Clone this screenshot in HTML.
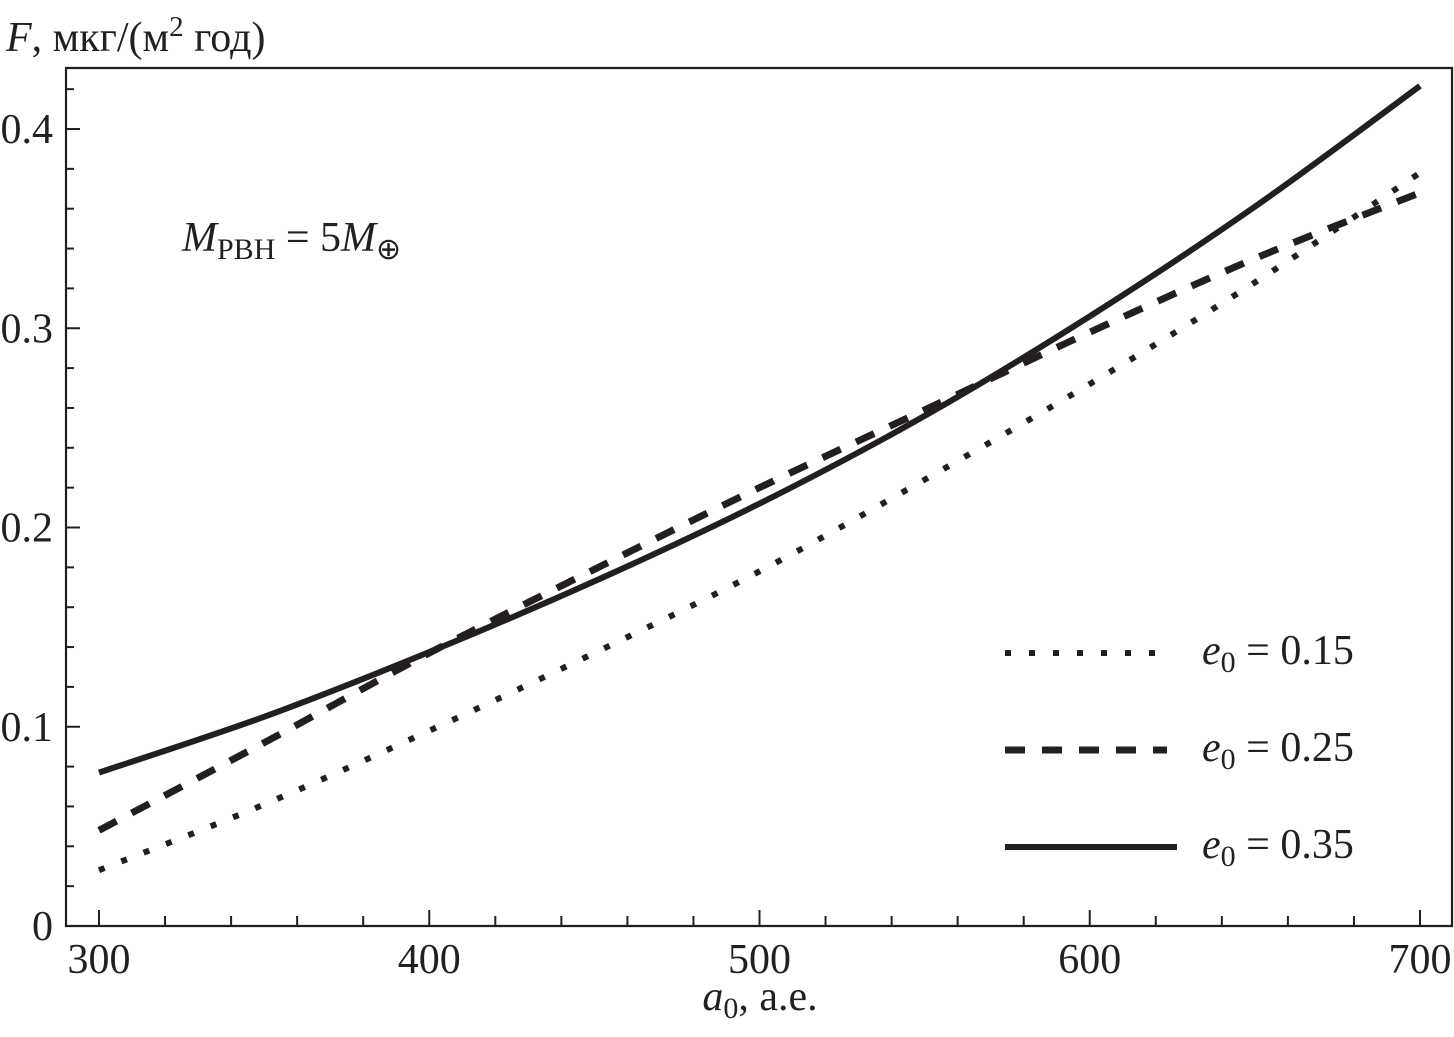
<!DOCTYPE html>
<html><head><meta charset="utf-8"><style>
body{margin:0;background:#fff}
svg{display:block;font-family:"Liberation Serif",serif;fill:#231f20}
</style></head><body>
<svg id="c" width="1454" height="1037" viewBox="0 0 1454 1037">
<text x="6" y="51" font-size="42"><tspan font-style="italic">F</tspan>, мкг/(м<tspan font-size="29" dy="-15">2</tspan><tspan dy="15"> год)</tspan></text>
<text x="182" y="251" font-size="42"><tspan font-style="italic">M</tspan><tspan font-size="30" dy="8">РВН</tspan><tspan dy="-8"> = 5</tspan><tspan font-style="italic">M</tspan><tspan font-size="30" dy="8">⊕</tspan></text>
<text x="760" y="1010" font-size="42" text-anchor="middle"><tspan font-style="italic">a</tspan><tspan font-size="30" dy="8">0</tspan><tspan dy="-8">, а.е.</tspan></text>
<g id="axes"></g>
<g id="series"></g>
<g id="legend"></g>
</svg>
<script>
const xValues=[300,350,400,450,500,550,600,650,700];
const e015=[0.028,0.061,0.098,0.137,0.178,0.224,0.272,0.323,0.378];
const e025=[0.048,0.092,0.137,0.179,0.220,0.259,0.298,0.335,0.368];
const e035=[0.077,0.105,0.1375,0.173,0.212,0.256,0.306,0.361,0.4216];
const xTicks=[300,400,500,600,700];
const yTicks=[0,0.1,0.2,0.3,0.4];
const yTickLabels=["0","0.1","0.2","0.3","0.4"];
const legendLabels=["0.15","0.25","0.35"];

const NS="http://www.w3.org/2000/svg";
const L=66,R=1452,T=68,B=926;
const X=v=>99+(v-300)*(1321/400);
const Y=v=>926-v*1992.5;
function mk(tag,attrs,parent){const e=document.createElementNS(NS,tag);for(const k in attrs)e.setAttribute(k,attrs[k]);parent.appendChild(e);return e;}
const axes=document.getElementById('axes');
let e=mk('path',{d:`M${L},${T}H${R}V${B}H${L}Z`,fill:'none',stroke:'#231f20','stroke-width':2.2},axes);


for(let v=300;v<=700;v+=20){const maj=v%100===0;
 e=mk('line',{x1:X(v),x2:X(v),y1:B,y2:B-(maj?16:10),stroke:'#231f20','stroke-width':2},axes);
 
 }
xTicks.forEach(v=>{e=mk('text',{x:X(v),y:973,'font-size':42,'text-anchor':'middle'},axes);e.textContent=v;
 
 });
for(let i=0;i<=21;i++){const v=i*0.02;const maj=i%5===0;if(Y(v)<T)break;
 e=mk('line',{x1:L,x2:L+(maj?14:8),y1:Y(v),y2:Y(v),stroke:'#231f20','stroke-width':2},axes);
 
 }
yTicks.forEach((v,i)=>{e=mk('text',{x:53,y:Y(v)+14,'font-size':42,'text-anchor':'end'},axes);e.textContent=yTickLabels[i];
 
 });
function pathFor(ys){const p=xValues.map((x,i)=>[X(x),Y(ys[i])]);let d=`M${p[0][0]},${p[0][1]}`;
 for(let i=0;i<p.length-1;i++){const p0=p[i-1]||p[i],p1=p[i],p2=p[i+1],p3=p[i+2]||p2;
  d+=` C${p1[0]+(p2[0]-p0[0])/6},${p1[1]+(p2[1]-p0[1])/6} ${p2[0]-(p3[0]-p1[0])/6},${p2[1]-(p3[1]-p1[1])/6} ${p2[0]},${p2[1]}`;}
 return d;}
const styles=[{w:6,da:'6 18'},{w:7,da:'20 17'},{w:6,da:''}];
const sg=document.getElementById('series');
[e015,e025,e035].forEach((s,i)=>{e=mk('path',{d:pathFor(s),fill:'none',stroke:'#231f20','stroke-width':styles[i].w,'stroke-dasharray':styles[i].da},sg);
 
 });
const lg=document.getElementById('legend');
legendLabels.forEach((lab,i)=>{const y=653+i*97;
 e=mk('line',{x1:1005,x2:i===2?1177:1167,y1:y,y2:y,stroke:'#231f20','stroke-width':styles[i].w,'stroke-dasharray':styles[i].da},lg);
 
 
 e=mk('text',{x:1202,y:y+11,'font-size':42},lg);
 e.innerHTML=`<tspan font-style="italic">e</tspan><tspan font-size="30" dy="8">0</tspan><tspan dy="-8"> = ${lab}</tspan>`;
 
 });
</script>
</body></html>
